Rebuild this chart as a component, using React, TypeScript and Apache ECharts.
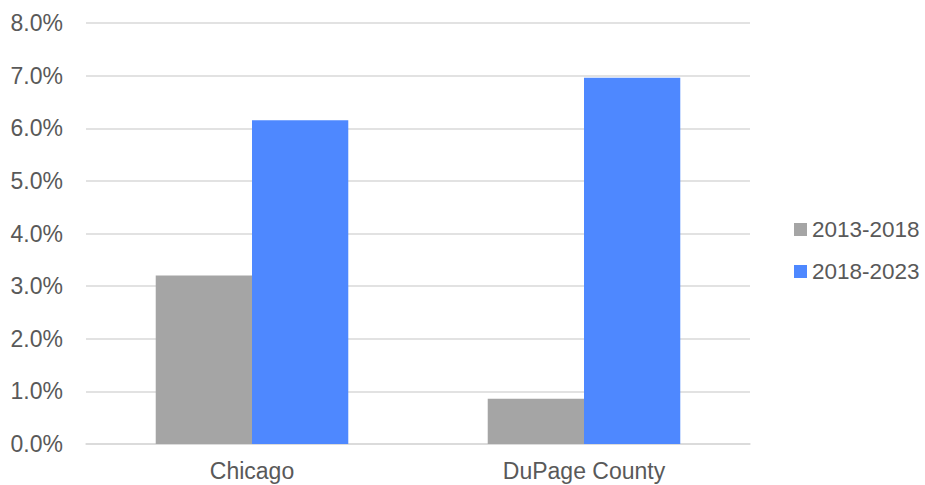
import React, { useEffect, useRef } from "react";
import * as echarts from "echarts";

const categories = ["Chicago", "DuPage County"];
const seriesNames = ["2013-2018", "2018-2023"];
const values2013 = [3.2, 0.86];
const values2018 = [6.15, 6.96];
const colors = ["#a5a5a5", "#4e88ff"];

export default function App() {
  const ref = useRef<HTMLDivElement>(null);
  useEffect(() => {
    if (!ref.current) return;
    const chart = echarts.init(ref.current, null, { renderer: "svg" });
    const font = "'Liberation Sans', Arial, sans-serif";
    chart.setOption({
      animation: false,
      textStyle: { fontFamily: font },
      grid: { left: 86, right: 175, top: 23, bottom: 41 },
      legend: {
        orient: "vertical",
        left: 794,
        top: 218,
        padding: 0,
        itemWidth: 13,
        itemHeight: 13,
        itemGap: 19,
        icon: "rect",
        data: seriesNames,
        textStyle: { fontSize: 22.5, color: "#595959", fontFamily: font },
      },
      xAxis: {
        type: "category",
        data: categories,
        axisLine: { lineStyle: { color: "#d9d9d9", width: 1.5 } },
        axisTick: { show: false },
        axisLabel: { fontSize: 23, color: "#595959", margin: 15, fontFamily: font },
      },
      yAxis: {
        type: "value",
        min: 0,
        max: 8,
        interval: 1,
        axisLine: { show: false },
        axisTick: { show: false },
        splitLine: { lineStyle: { color: "#d9d9d9", width: 1.5 } },
        axisLabel: {
          fontSize: 23,
          color: "#595959",
          margin: 23,
          fontFamily: font,
          formatter: (v: number) => v.toFixed(1) + "%",
        },
      },
      series: [
        {
          name: seriesNames[0],
          type: "bar",
          data: values2013,
          itemStyle: { color: colors[0] },
          barGap: "0%",
          barCategoryGap: "42%",
        },
        {
          name: seriesNames[1],
          type: "bar",
          data: values2018,
          itemStyle: { color: colors[1] },
          barGap: "0%",
          barCategoryGap: "42%",
        },
      ],
    });
    return () => chart.dispose();
  }, []);
  return (
    <div
      ref={ref}
      style={{ position: "fixed", left: 0, top: 0, width: 925, height: 485, background: "#fff" }}
    />
  );
}
